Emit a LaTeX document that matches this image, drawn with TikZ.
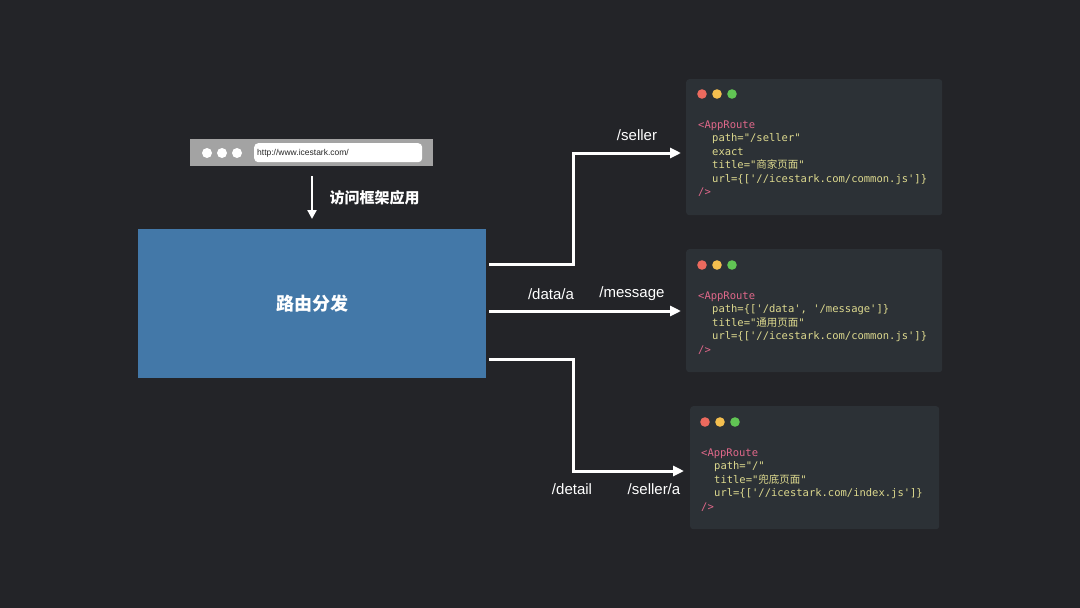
\documentclass[tikz,border=0pt]{standalone}
\usepackage{fontspec}
\setmainfont{Liberation Sans}
\setmonofont{DejaVu Sans Mono}
\newfontfamily\cjk{Noto Sans CJK SC}
\usetikzlibrary{arrows.meta,calc}
\definecolor{bgc}{HTML}{232428}
\definecolor{cardc}{HTML}{2C3136}
\definecolor{boxc}{HTML}{4378A8}
\definecolor{barc}{HTML}{A3A3A3}
\definecolor{dotr}{HTML}{EC6A5E}
\definecolor{doty}{HTML}{F4BF4F}
\definecolor{dotg}{HTML}{61C554}
\definecolor{tagc}{HTML}{E0688A}
\definecolor{attc}{HTML}{DDD98E}
\tikzset{
  conn/.style={draw=white,line width=3pt,-{Triangle[length=11pt,width=10pt]}},
  card/.style={fill=cardc,rounded corners=3pt,anchor=north west,inner sep=0pt},
  lbl/.style={text=white,font=\fontsize{15}{18}\selectfont},
  code/.style={anchor=base west,inner sep=0pt,font=\ttfamily\fontsize{10.5}{13}\selectfont},
  tag/.style={code,text=tagc},
  att/.style={code,text=attc},
  wdot/.style={circle,fill=white,minimum size=10pt,inner sep=0pt},
}
\begin{document}
\begin{tikzpicture}[x=1pt,y=-1pt]
\useasboundingbox[fill=bgc] (0,0) rectangle (1080,608);

% browser bar
\node[fill=barc,anchor=north west,minimum width=243pt,minimum height=27pt,inner sep=0pt] (bar) at (190,139) {};
\node[fill=white,rounded corners=4pt,anchor=north west,minimum width=168pt,minimum height=19pt,inner sep=0pt] (url) at (254,143) {};
\node[anchor=west,inner sep=0pt,font=\fontsize{8.5}{10}\selectfont,text=black!85] (urltext) at (257,153) {http://www.icestark.com/};
\node[wdot] (b1) at (207,153) {};
\node[wdot] (b2) at (222,153) {};
\node[wdot] (b3) at (237,153) {};

% main box
\node[fill=boxc,anchor=north west,minimum width=348pt,minimum height=149pt,inner sep=0pt,
  font=\cjk\bfseries\fontsize{18}{20}\selectfont,text=white] (box) at (138,229) {路由分发};

% visit arrow
\coordinate (va) at (312,176);
\draw[draw=white,line width=2.2pt,-{Triangle[length=9pt,width=9pt]}] (va) -- ([yshift=10pt]box.north -| va);
\node[text=white,font=\cjk\bfseries\fontsize{15}{17}\selectfont,anchor=west] (visit) at (326,198) {访问框架应用};

% cards
\node[card,minimum width=256pt,minimum height=136pt] (c1) at (686,79) {};
\node[card,minimum width=256pt,minimum height=123pt] (c2) at (686,249) {};
\node[card,minimum width=249pt,minimum height=123pt] (c3) at (690,406) {};

% dots
\foreach \n/\x/\y in {c1/702/94,c2/702/265,c3/705/422}{
  \fill[dotr] (\x,\y) circle (4.8pt);
  \fill[doty] (\x+15,\y) circle (4.8pt);
  \fill[dotg] (\x+30,\y) circle (4.8pt);
}

% card 1 code
\node[tag] (c1l1) at (698,128) {<AppRoute};
\node[att] (c1l2) at (712,141) {path="/seller"};
\node[att] (c1l3) at (712,155) {exact};
\node[att] (c1l4) at (712,168) {title="{\cjk 商家页面}"};
\node[att] (c1l5) at (712,182) {url=\{['//icestark.com/common.js']\}};
\node[tag] (c1l6) at (698,195) {/>};

% card 2 code
\node[tag] (c2l1) at (698,299) {<AppRoute};
\node[att] (c2l2) at (712,312) {path=\{['/data', '/message']\}};
\node[att] (c2l3) at (712,326) {title="{\cjk 通用页面}"};
\node[att] (c2l4) at (712,339) {url=\{['//icestark.com/common.js']\}};
\node[tag] (c2l5) at (698,353) {/>};

% card 3 code
\node[tag] (c3l1) at (701,456) {<AppRoute};
\node[att] (c3l2) at (714,469) {path="/"};
\node[att] (c3l3) at (714,483) {title="{\cjk 兜底页面}"};
\node[att] (c3l4) at (714,496) {url=\{['//icestark.com/index.js']\}};
\node[tag] (c3l5) at (701,510) {/>};

% connectors
\coordinate (s1) at (489,264);
\coordinate (s2) at (489,311);
\coordinate (s3) at (489,359);
\coordinate (t1) at (681,153);
\coordinate (t2) at (681,311);
\coordinate (t3) at (684,471);
\draw[conn] (s1) -- (573,264) |- (t1);
\draw[conn] (s2) -- (t2);
\draw[conn] (s3) -- (573,359) |- (t3);

% labels
\node[lbl] (l1) at (637,135) {/seller};
\node[lbl] (l2) at (551,294) {/data/a};
\node[lbl] (l3) at (632,294) {/message};
\node[lbl] (l4) at (572,489) {/detail};
\node[lbl] (l5) at (654,489) {/seller/a};
\end{tikzpicture}
\end{document}
